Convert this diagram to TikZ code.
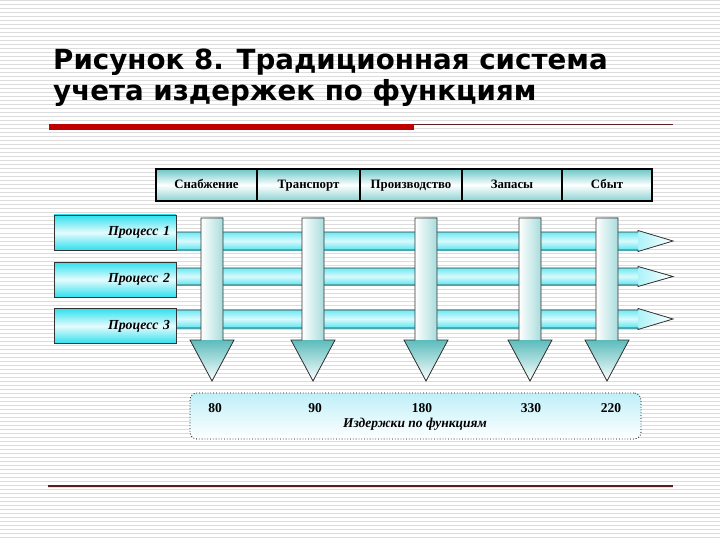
\documentclass[tikz,border=0pt]{standalone}
\usepackage{fontspec}
\setmainfont{Liberation Serif}
\newfontfamily\titlefont{DejaVu Sans}
\usetikzlibrary{positioning}
\definecolor{stripe}{HTML}{DCDCDC}
\definecolor{hdrteal}{HTML}{6CC6C6}
\definecolor{proccyan}{HTML}{2EE0EE}
\definecolor{shaftteal}{HTML}{A8DCDC}
\definecolor{headteal}{HTML}{5CBCBC}
\definecolor{costcyan}{HTML}{BEEFF8}
\definecolor{barred}{HTML}{C00000}
\definecolor{darkline}{HTML}{5A1E1E}

\begin{document}
\begin{tikzpicture}[x=1pt,y=-1pt,
 every node/.style={font=\fontsize{13.5}{15}\selectfont\bfseries},
 hdr/.style={draw=black,line width=1.4pt,minimum height=32pt,inner sep=0pt,
  text height=9pt,text depth=2.5pt,font=\fontsize{12.8}{14}\selectfont\bfseries,
  top color=hdrteal,bottom color=hdrteal!80,middle color=white},
 proc/.style={draw=black!80,line width=0.8pt,minimum height=35pt,text width=110pt,
  align=right,inner xsep=6pt,top color=proccyan,bottom color=proccyan,middle color=proccyan!12,
  font=\fontsize{13.8}{15}\selectfont\bfseries\itshape},
 cost/.style={draw=black,dotted,thick,rounded corners=7pt,minimum width=451pt,
  minimum height=46pt,top color=costcyan,bottom color=white},
 arrline/.style={draw=black!80,line width=0.8pt,line join=miter},
 ttl/.style={anchor=base west,inner sep=0pt,font=\titlefont\bfseries\fontsize{27.7}{32}\selectfont}]
 \useasboundingbox (0,0) rectangle (720,540);
 % striped background
 \foreach \y in {1,5,...,537}
  \draw[stripe,line width=1pt] (0,\y) -- (720,\y);
 % title and rules
 \node[ttl] (title1) at (53,70) {Рисунок 8. Традиционная система};
 \node[ttl] (title2) at (53,101) {учета издержек по функциям};
 \draw[barred,line width=6pt] (49,127) -- (414,127);
 \draw[darkline,line width=0.8pt] (414,124.5) -- (673,124.5);
 \draw[darkline,line width=1.2pt] (48,486) -- (673,486);
 \draw[barred!15,line width=1pt] (48,487.5) -- (673,487.5);
 % horizontal process arrows
 \foreach \t/\b in {232/250,268/285,310/328} {
  \pgfmathsetmacro\m{(\t+\b)/2}
  \fill[top color=proccyan!70,bottom color=proccyan!80,middle color=proccyan!18]
   (170,\t) rectangle (638,\b);
  \fill[left color=proccyan!40,right color=white]
   (638,\t-1.5) -- (673,\m) -- (638,\b+1.5) -- cycle;
  \draw[arrline] (170,\t) -- (638,\t) -- (638,\t-1.5) -- (673,\m) -- (638,\b+1.5) -- (638,\b) -- (170,\b);
 }
 % processes
 \node[proc] (p1) at (115,232.5) {Процесс 1};
 \node[proc] (p2) at (115,279.5) {Процесс 2};
 \node[proc] (p3) at (115,326) {Процесс 3};
 % vertical function arrows
 \foreach \x in {212,313,426,530,607} {
  \fill[left color=white,right color=shaftteal] (\x-11,218) rectangle (\x+11,340);
  \fill[top color=headteal,bottom color=white] (\x-22,340) -- (\x+22,340) -- (\x,381) -- cycle;
  \draw[arrline] (\x-11,218) -- (\x+11,218) -- (\x+11,340) -- (\x+22,340) -- (\x,381)
   -- (\x-22,340) -- (\x-11,340) -- cycle;
 }
 % functions
 \node[hdr,minimum width=101pt] (f1) at (206.5,185) {Снабжение};
 \node[hdr,minimum width=103pt] (f2) at (308.5,185) {Транспорт};
 \node[hdr,minimum width=102pt] (f3) at (411,185) {Производство};
 \node[hdr,minimum width=100pt] (f4) at (512,185) {Запасы};
 \node[hdr,minimum width=90pt] (f5) at (607,185) {Сбыт};
 % costs
 \node[cost] (costs) at (415.5,416) {};
 \node (c1) at (215,408) {80};
 \node (c2) at (315,408) {90};
 \node (c3) at (422,408) {180};
 \node (c4) at (531,408) {330};
 \node (c5) at (611,408) {220};
 \node[font=\fontsize{13.5}{15}\selectfont\bfseries\itshape] (costlbl) at (415,424) {Издержки по функциям};
\end{tikzpicture}
\end{document}
